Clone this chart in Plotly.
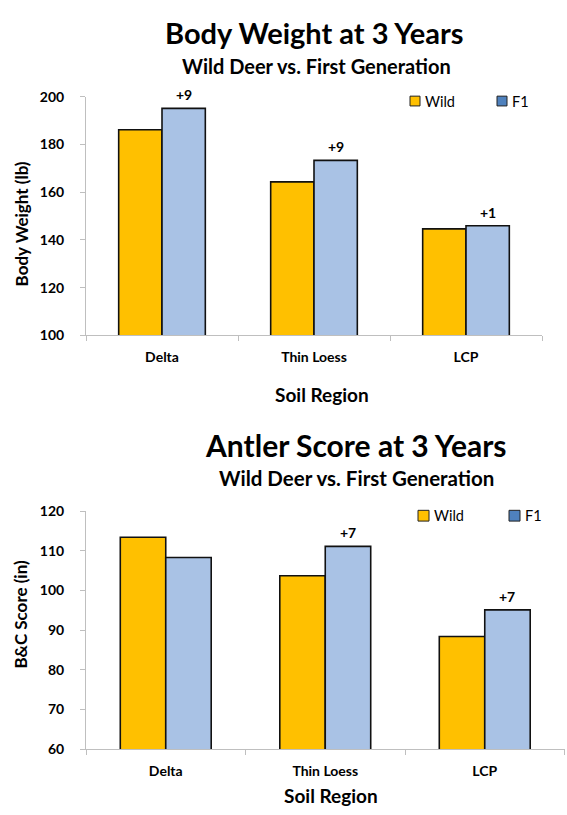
import plotly.graph_objects as go

# Soil regions and measurements at 3 years of age
regions = ["Delta", "Thin Loess", "LCP"]
weight_wild = [186.1, 164.3, 144.6]
weight_f1 = [195.1, 173.3, 145.9]
antler_wild = [113.4, 103.7, 88.4]
antler_f1 = [108.3, 111.1, 95.1]

weight_ticks = [100, 120, 140, 160, 180, 200]
antler_ticks = [60, 70, 80, 90, 100, 110, 120]

W, H = 567, 815
FONT = "Lato"
GOLD = "#FFC000"
LIGHT_BLUE = "#A9C2E5"
SWATCH_BLUE = "#4F81BD"
AXIS_GRAY = "#BFBFBF"
BARGAP = 0.43


def py(px):
    """Pixel row (from top) to paper y."""
    return 1 - px / H


def px_x(px):
    return px / W


fig = go.Figure()

for xa, ya, wild, f1 in [("x", "y", weight_wild, weight_f1),
                         ("x2", "y2", antler_wild, antler_f1)]:
    fig.add_trace(go.Bar(x=regions, y=wild, name="Wild", xaxis=xa, yaxis=ya,
                         marker=dict(color=GOLD, line=dict(color="#111", width=1.6)),
                         showlegend=False))
    fig.add_trace(go.Bar(x=regions, y=f1, name="F1", xaxis=xa, yaxis=ya,
                         marker=dict(color=LIGHT_BLUE, line=dict(color="#111", width=1.6)),
                         showlegend=False))

common_x = dict(showline=True, linecolor=AXIS_GRAY, linewidth=1, ticks="outside",
                tickson="boundaries", ticklen=5, tickcolor=AXIS_GRAY,
                showgrid=False, zeroline=False, fixedrange=True,
                tickfont=dict(family=FONT, size=14, color="#000", weight="bold"),
                ticklabelstandoff=9)
common_y = dict(showline=True, linecolor=AXIS_GRAY, linewidth=1, ticks="outside",
                ticklen=5, tickcolor=AXIS_GRAY, showgrid=False, zeroline=False,
                tickfont=dict(family=FONT, size=14, color="#000", weight="bold"),
                ticklabelstandoff=13)

fig.update_layout(
    width=W, height=H, margin=dict(l=0, r=0, t=0, b=0),
    paper_bgcolor="white", plot_bgcolor="white",
    barmode="group", bargap=BARGAP, bargroupgap=0,
    xaxis=dict(domain=[px_x(86), px_x(542)], anchor="y", **common_x),
    yaxis=dict(domain=[py(333.3), py(89.5)], anchor="x", range=[100, 200],
               tickvals=weight_ticks, **common_y),
    xaxis2=dict(domain=[px_x(86), px_x(564.5)], anchor="y2", **common_x),
    yaxis2=dict(domain=[py(756), py(512.7)], anchor="x2", range=[60, 120],
                tickvals=antler_ticks, **common_y),
)

ann = []


def text(x, y, s, size, bold=True, xanchor="center", angle=0):
    ann.append(dict(x=x, y=y, xref="paper", yref="paper", text=s, showarrow=False,
                    xanchor=xanchor, yanchor="middle", textangle=angle,
                    font=dict(family=FONT, size=size, color="#000",
                              weight="bold" if bold else "normal")))


# Titles
text(px_x(314.5), py(24.5), "Body Weight at 3 Years", 29)
text(px_x(316), py(58), "Wild Deer vs. First Generation", 20)
text(px_x(355.5), py(445), "Antler Score at 3 Years", 30)
text(px_x(356), py(479), "Wild Deer vs. First Generation", 20.5)

# Axis titles
text(px_x(21), py(220), "Body Weight (lb)", 17, angle=-90)
text(px_x(21), py(618.5), "B&C Score (in)", 17, angle=-90)
text(px_x(321.5), py(394), "Soil Region", 19)
text(px_x(331), py(803), "Soil Region", 19)

# Difference labels above the F1 bars
off = (1 - BARGAP) / 4
for xr, yr, wild, f1 in [("x", "y", weight_wild, weight_f1),
                         ("x2", "y2", antler_wild, antler_f1)]:
    for i, (w, f) in enumerate(zip(wild, f1)):
        d = round(f - w)
        if d > 0:
            ann.append(dict(x=i + off, y=f, xref=xr, yref=yr, text=f"+{d}",
                            showarrow=False, yanchor="bottom", yshift=3,
                            font=dict(family=FONT, size=14, color="#000", weight="bold")))

# Legends drawn as swatches + labels
shapes = []


def legend(cx_wild, cx_f1, cy, size):
    for cx, col, lab in [(cx_wild, GOLD, "Wild"), (cx_f1, SWATCH_BLUE, "F1")]:
        h = size / 2
        shapes.append(dict(type="rect", xref="paper", yref="paper",
                           x0=px_x(cx - h), x1=px_x(cx + h),
                           y0=py(cy + h), y1=py(cy - h),
                           fillcolor=col, line=dict(color="#222", width=1)))
        text(px_x(cx + h + 3), py(cy), lab, 14.5, bold=False, xanchor="left")


legend(415, 502, 94, 10)
legend(423.5, 514.5, 517.5, 11)

fig.update_layout(annotations=ann, shapes=shapes)

fig.write_html("out.html")
